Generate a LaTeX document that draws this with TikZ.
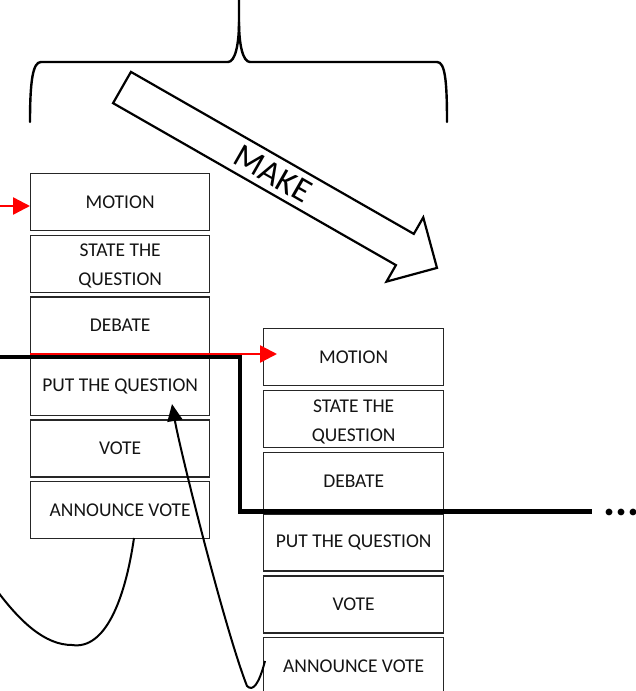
\documentclass[tikz,border=0pt]{standalone}
\usepackage{fontspec}
\setmainfont{Carlito}
\usetikzlibrary{arrows.meta}
\newcommand{\topstrut}{\rule{0pt}{18pt}}
\begin{document}
\begin{tikzpicture}[x=1pt,y=-1pt,
  stepbox/.style={draw=black!85, line width=1.3pt, minimum height=57pt, inner sep=0pt,
    align=center, font=\fontsize{19.5}{29}\selectfont, text=black!92, anchor=north west},
  leftbox/.style={stepbox, minimum width=179pt},
  rightbox/.style={stepbox, minimum width=180pt},
  bracepath/.style={line width=2.4pt, line cap=round},
  redarrow/.style={red, line width=2.5pt, -{Triangle[length=17pt,width=17pt]}},
  thickline/.style={line width=4.5pt},
  curvearrow/.style={line width=2pt},
]
\useasboundingbox (0,0) rectangle (636,691);
\clip (0,0) rectangle (636,691);

% brace
\coordinate (btop) at (239,0);
\coordinate (bsplit) at (239,22);
\coordinate (bleft) at (30,122);
\coordinate (bright) at (447,122);
\draw[bracepath] (bleft) .. controls (30,80) and (33,62) .. (41,62) -- (228,62)
  .. controls (235,62) and (239,45) .. (bsplit) -- (btop);
\draw[bracepath] (bsplit) .. controls (239,45) and (243,62) .. (250,62) -- (437,62)
  .. controls (445,62) and (447,80) .. (bright);

% MAKE block arrow
\begin{scope}[shift={(122,87.5)}, rotate=-29.8]
  \draw[line width=2.2pt, line join=miter, fill=white]
    (0,-18) -- (326,-18) -- (326,-37) -- (363,0) -- (326,37) -- (326,18) -- (0,18) -- cycle;
  \node[rotate=-29.8, font=\fontsize{34}{34}\selectfont] (make) at (174,0) {MAKE};
\end{scope}

% left column
\node[leftbox] (m1) at (30,173)   {MOTION};
\node[leftbox] (s1) at (30,234.6) {\topstrut STATE THE\\QUESTION};
\node[leftbox] (d1) at (30,296.2) {DEBATE};
\node[leftbox] (p1) at (30,357.8) {PUT THE QUESTION};
\node[leftbox] (v1) at (30,419.4) {VOTE};
\node[leftbox] (a1) at (30,481)   {ANNOUNCE VOTE};

% right column
\node[rightbox] (m2) at (263,328)   {MOTION};
\node[rightbox] (s2) at (263,389.8) {\topstrut STATE THE\\QUESTION};
\node[rightbox] (d2) at (263,451.6) {DEBATE};
\node[rightbox] (p2) at (263,513.4) {PUT THE QUESTION};
\node[rightbox] (v2) at (263,575.2) {VOTE};
\node[rightbox] (a2) at (263,637)   {ANNOUNCE VOTE};

% red arrow into first motion
\coordinate (rin) at (0,206);
\draw[redarrow] (rin) -- (rin -| m1.west);

% red arrow to second motion
\coordinate (rstart) at (30,354);
\coordinate (rend) at (277,354);
\draw[redarrow] (rstart) -- (rend);

% thick black line
\coordinate (kstart) at (0,357);
\coordinate (kb1) at (240,357);
\coordinate (kb2) at (240,511.5);
\coordinate (kend) at (592,511.5);
\draw[thickline, line join=miter] (kstart) -- (kb1) -- (kb2) -- (kend);
\node[anchor=base west, inner sep=0pt, font=\fontsize{45}{45}\selectfont\bfseries] (dots) at (603,515) {...};

% curve from first announce vote leaving to the left
\coordinate (c1s) at (134,538);
\coordinate (c1e) at (-5,588);
\draw[curvearrow] (c1s) .. controls (125,600) and (105,650) .. (72,645)
  .. controls (45,645) and (20,622) .. (c1e);

% curve from second announce vote back to put the question
\coordinate (c2s) at (265,661);
\coordinate (c2t) at (172,404);
\draw[curvearrow, -{Triangle[length=17pt,width=15pt]}] (c2s) .. controls (259,684) and (253,692) .. (247,686)
  .. controls (225,630) and (180,450) .. (c2t);
\end{tikzpicture}
\end{document}
